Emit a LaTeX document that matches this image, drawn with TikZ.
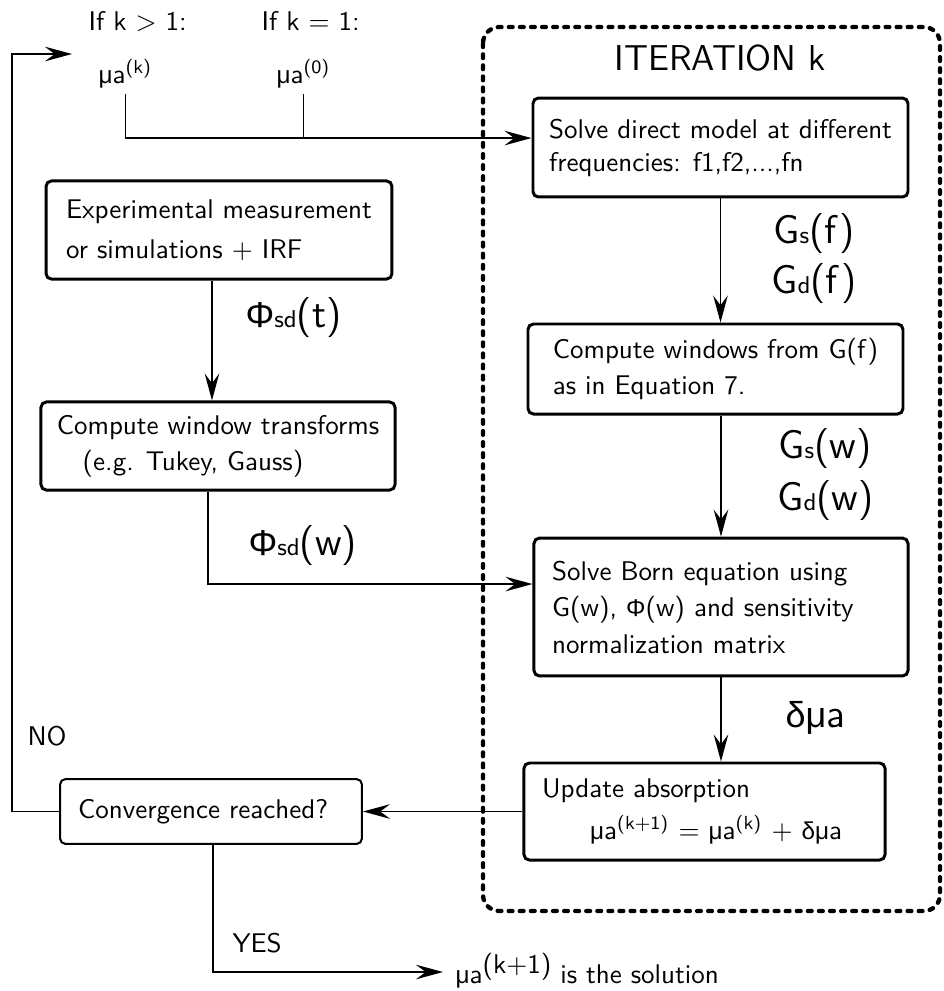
\documentclass[tikz,border=0pt]{standalone}
\usepackage{fontspec}
\newfontfamily\gk{Liberation Sans}[Scale=0.9]
\usetikzlibrary{arrows.meta,calc}
\newcommand\gkmu{{\gk μ}}
\newcommand\gkdelta{{\gk δ}}
\newcommand\gkPhi{{\gk Φ}}
\newcommand\sbs[1]{{\fontsize{9}{9}\selectfont #1}}
\begin{document}
\begin{tikzpicture}[x=0.37pt,y=-0.37pt,
  every node/.style={font=\sffamily\fontsize{10}{12}\selectfont},
  box/.style={draw, line width=1.1pt, rounded corners=2pt, align=left, inner ysep=0pt},
  lbl/.style={inner sep=0pt, anchor=base west},
  big/.style={lbl, font=\sffamily\fontsize{14.8}{18}\selectfont},
  conn/.style={line width=0.6pt},
  arr/.style={conn, -{Stealth[length=10pt,width=5.4pt,inset=3.6pt]}},
  dotbox/.style={line width=1.6pt, line cap=round, dash pattern=on 1.4pt off 2.7pt, rounded corners=6pt}
]
\useasboundingbox (0,0) rectangle (944,991);

\draw[dotbox] (483,27) rectangle (940,911);

% boxes
\node[box, minimum width=138.75pt, minimum height=36.6pt, inner xsep=5.55pt,
      font=\sffamily\fontsize{10}{12.2}\selectfont] (solve) at (720.5,147.5)
      {Solve direct model at different\\frequencies: f1,f2,...,fn};
\node[box, minimum width=128pt, minimum height=36.3pt, inner xsep=7pt,
      font=\sffamily\fontsize{10}{14.8}\selectfont] (exp) at (219,230)
      {Experimental measurement\\or simulations + IRF};
\node[box, minimum width=138.75pt, minimum height=33.3pt, inner xsep=7.8pt,
      font=\sffamily\fontsize{10}{13}\selectfont] (cw) at (715.5,369)
      {Compute windows from G(f)\\as in Equation 7.};
\node[box, minimum width=131pt, minimum height=32.6pt, inner xsep=4.4pt,
      font=\sffamily\fontsize{10}{13.3}\selectfont] (tr) at (218,446)
      {Compute window transforms\\\hspace*{9.6pt}(e.g. Tukey, Gauss)};
\node[box, text width=125pt, minimum height=51pt, inner xsep=6.7pt,
      font=\sffamily\fontsize{10}{13.5}\selectfont] (born) at (721,607)
      {Solve Born equation using\\G(w), \gkPhi(w) and sensitivity\\normalization matrix};
\node[box, text width=120.2pt, minimum height=35.9pt, inner xsep=6.7pt,
      font=\sffamily\fontsize{10}{15.5}\selectfont] (upd) at (704.5,811.5)
      {Update absorption\\\hspace*{17.8pt}\gkmu a\textsuperscript{(k+1)} = \gkmu a\textsuperscript{(k)} + \gkdelta\gkmu a};
\node[box, line width=0.75pt, text width=98.3pt, minimum height=24pt, inner xsep=6.7pt]
      (conv) at (211,811.5) {Convergence reached?};

% labels
\node[lbl] (ifg) at (88,30) {If k > 1:};
\node[lbl] (ife) at (261,30) {If k = 1:};
\node[lbl] (mak) at (98,83) {\gkmu a\textsuperscript{(k)}};
\node[lbl] (ma0) at (276,83) {\gkmu a\textsuperscript{(0)}};
\node[inner sep=0pt, anchor=base, font=\sffamily\fontsize{13.3}{16}\selectfont] (itl) at (720,70) {ITERATION k};
\node[big] (gsf) at (773,243) {G\sbs{s}(f)};
\node[big] (gdf) at (771,293) {G\sbs{d}(f)};
\node[big] (gsw) at (778,458) {G\sbs{s}(w)};
\node[big] (gdw) at (777,510) {G\sbs{d}(w)};
\node[big] (phit) at (245,327) {\gkPhi\sbs{sd}(t)};
\node[big] (phiw) at (248,555) {\gkPhi\sbs{sd}(w)};
\node[big] (dmu) at (785,727) {\gkdelta\gkmu a};
\node[lbl] (no) at (27,745) {NO};
\node[lbl] (yes) at (232,952) {YES};
\node[lbl] (sol) at (455,983) {\gkmu a\raisebox{3.5pt}{(k+1)} is the solution};

% connectors
\coordinate (solvein) at ([yshift=3.5pt]solve.west);
\coordinate (bornin) at ([yshift=8.5pt]born.west);
\coordinate (solin) at (443,972);
\coordinate (loopin) at (72,54);
\draw[arr] ([yshift=-2pt]mak.south) |- (solvein);
\draw[conn] ([yshift=-2pt]ma0.south) -- (ma0.south |- solvein);
\draw[arr] (solve.south) -- (solve.south |- cw.north);
\draw[arr] (born.north |- cw.south) -- (born.north);
\draw[arr] (born.south) -- (born.south |- upd.north);
\draw[arr] ([xshift=-2.6pt]exp.south) -- ([xshift=-2.6pt]exp.south |- tr.north);
\draw[arr] ([xshift=-3.7pt]tr.south) |- (bornin);
\draw[arr] (upd.west) -- (conv.east);
\draw[arr] ([xshift=0.7pt]conv.south) |- (solin);
\draw[arr] (conv.west) -- ++(-47,0) |- (loopin);
\end{tikzpicture}
\end{document}
